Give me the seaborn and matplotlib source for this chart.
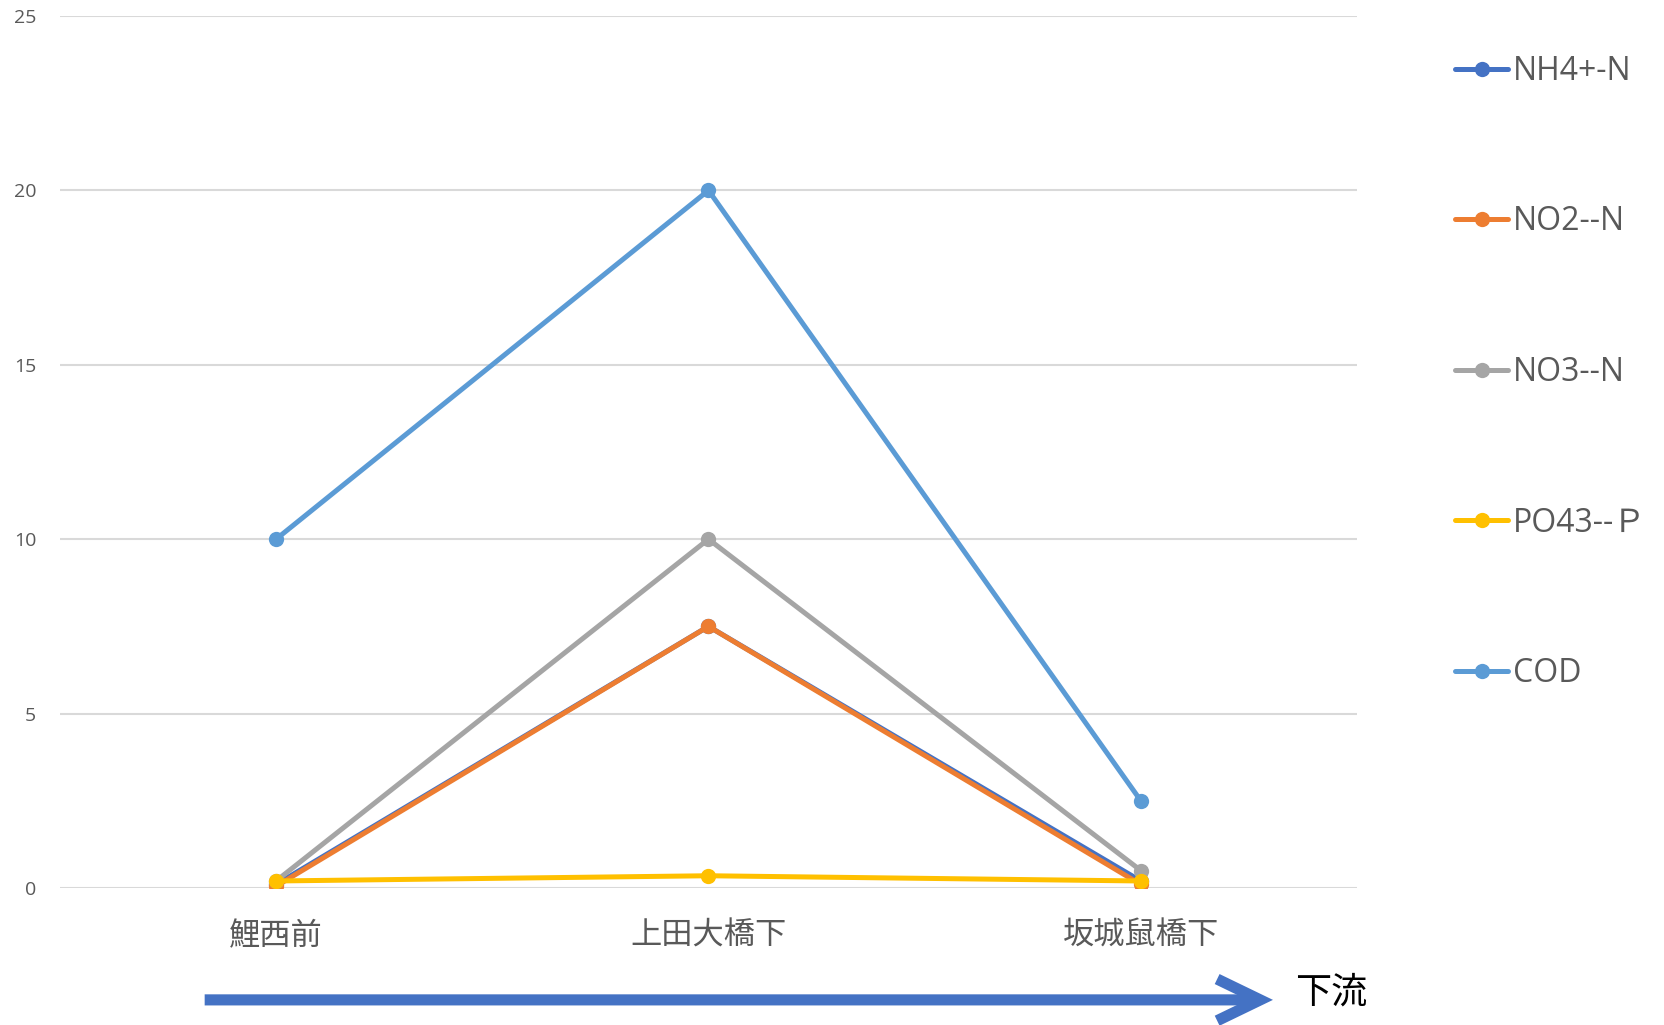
import pandas as pd
import matplotlib
matplotlib.use('Agg')
import matplotlib.pyplot as plt
import seaborn as sns

# sampling sites (upstream -> downstream)
sites = ['鯉西前', '上田大橋下', '坂城鼠橋下']

# series values
nh4 = [0.1, 7.5, 0.2]
no2 = [0.05, 7.5, 0.1]
no3 = [0.2, 10.0, 0.5]
po4 = [0.2, 0.35, 0.2]
cod = [10.0, 20.0, 2.5]

series_names = ['NH4+-N', 'NO2--N', 'NO3--N', 'PO43--Ｐ', 'COD']
series_values = [nh4, no2, no3, po4, cod]
colors = ['#4472C4', '#ED7D31', '#A5A5A5', '#FFC000', '#5B9BD5']

y_ticks = [0, 5, 10, 15, 20, 25]


def main():
    sns.set_theme(style='white')
    plt.rcParams['font.family'] = ['Open Sans', 'Noto Sans CJK JP', 'DejaVu Sans']

    rows = []
    for name, vals in zip(series_names, series_values):
        for i, v in enumerate(vals):
            rows.append({'site': i, 'series': name, 'value': v})
    df = pd.DataFrame(rows)

    fig = plt.figure(figsize=(16.64, 10.25), dpi=100)
    ax = fig.add_axes([0.036, 0.1337, 0.7795, 0.8507])

    sns.lineplot(data=df, x='site', y='value', hue='series', hue_order=series_names,
                 palette=colors, marker='o', markersize=11, markeredgewidth=0,
                 linewidth=3.6, sort=False, ax=ax, legend=True)

    ax.set_xlim(-0.5, 2.5)
    ax.set_ylim(0, 25)
    ax.set_yticks(y_ticks)
    ax.set_yticklabels([str(t) for t in y_ticks])
    ax.set_xticks(range(len(sites)))
    ax.set_xticklabels(sites, family=['Noto Sans CJK JP'], fontsize=22.5, color='#595959')
    ax.tick_params(axis='y', length=0, pad=17, labelsize=14, labelcolor='#595959')
    ax.tick_params(axis='x', length=0, pad=23)
    ax.set_xlabel('')
    ax.set_ylabel('')
    ax.yaxis.grid(True, color='#D9D9D9', linewidth=1.5)
    ax.xaxis.grid(False)
    ax.set_axisbelow(True)
    for s in ax.spines.values():
        s.set_visible(False)

    handles, labels = ax.get_legend_handles_labels()
    leg = ax.legend(handles, labels, loc='upper left', bbox_to_anchor=(1.066, 0.970),
                    frameon=False, fontsize=23, labelspacing=3.68, handlelength=1.65,
                    handletextpad=0.15, borderaxespad=0)
    for t in leg.get_texts():
        t.set_color('#595959')

    # downstream arrow below the axis
    ax.annotate('', xy=(0.765, 0.0245), xytext=(0.123, 0.0245), xycoords='figure fraction',
                arrowprops=dict(arrowstyle='->,head_length=31,head_width=15',
                                mutation_scale=1, color='#4472C4', linewidth=8,
                                shrinkA=0, shrinkB=0, joinstyle='miter', capstyle='butt'))
    fig.text(0.778, 0.032, '下流', family=['Noto Sans CJK JP'], fontsize=26,
             color='black', ha='left', va='center')

    fig.savefig('out.png', dpi=100)
    plt.close(fig)


if __name__ == '__main__':
    main()
